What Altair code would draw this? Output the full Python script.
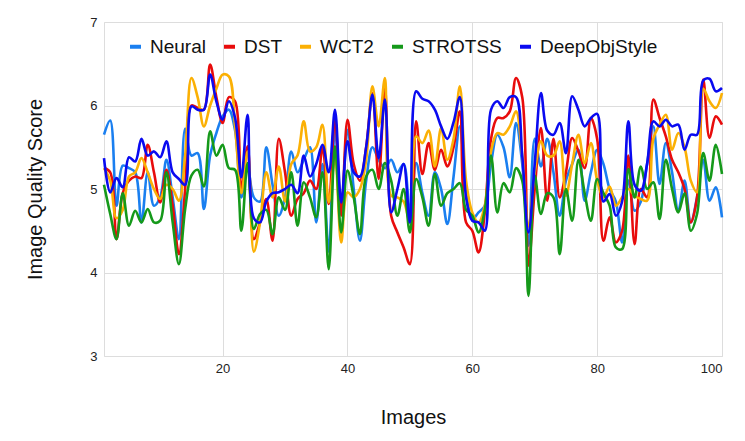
import altair as alt
import pandas as pd

images = list(range(1, 101))

neural = [5.65, 5.82, 4.8, 5.28, 5.25, 5.2, 4.6, 5.2, 4.8, 4.9,
          5.35, 4.9, 4.4, 5.72, 5.4, 5.43, 4.76, 5.4, 5.67, 5.87,
          5.95, 5.7, 4.9, 5.27, 4.9, 4.85, 5.5, 5.05, 4.68, 4.9,
          5.45, 5.2, 5.35, 5.5, 4.6, 5.3, 4.25, 5.71, 4.75, 5.71,
          5.0, 4.38, 5.1, 5.5, 5.35, 5.25, 5.35, 5.2, 5.3, 4.75,
          5.31, 4.95, 4.68, 5.2, 5.0, 4.58, 5.15, 5.75, 5.0, 4.64,
          4.72, 4.8, 5.3, 5.65, 5.5, 5.14, 5.79, 5.3, 4.32, 5.6,
          5.27, 5.6, 5.2, 4.68, 5.1, 5.3, 5.47, 4.86, 5.2, 5.47,
          5.3, 5.0, 4.85, 4.36, 5.1, 4.74, 4.85, 5.3, 5.75, 5.06,
          5.55, 5.2, 4.74, 5.1, 4.6, 4.9, 5.35, 4.86, 5.02, 4.66]

dst = [5.25, 5.2, 4.4, 4.95, 5.1, 5.15, 5.13, 5.53, 5.2, 4.84,
       5.23, 4.8, 4.22, 5.0, 6.0, 5.97, 5.95, 6.49, 6.1, 5.79,
       6.1, 6.05, 5.0, 5.51, 4.4, 4.6, 4.88, 4.38, 5.6, 5.2,
       4.68, 4.88, 4.95, 5.1, 5.0, 5.5, 4.82, 5.85, 4.68, 5.83,
       5.3, 5.1, 5.5, 6.15, 5.12, 6.21, 4.68, 4.48, 4.3, 4.1,
       5.81, 5.18, 5.55, 5.23, 5.47, 5.27, 5.5, 5.93, 4.6, 4.5,
       4.24, 4.72, 5.6, 5.85, 5.85, 5.93, 6.33, 6.1, 4.08, 5.0,
       5.73, 4.86, 5.6, 4.9, 5.2, 5.61, 5.45, 5.25, 5.85, 5.6,
       4.38, 4.66, 4.36, 4.5, 5.4, 4.34, 5.0, 4.9, 6.07, 5.85,
       5.63, 5.35, 5.2, 5.0, 4.6, 4.9, 6.31, 5.61, 5.87, 5.77]

wct2 = [5.25, 5.1, 4.65, 4.75, 5.15, 5.2, 5.37, 5.2, 5.0, 4.88,
        5.05, 5.0, 4.86, 5.4, 6.33, 6.1, 5.75, 6.0, 6.2, 6.37,
        6.35, 5.75, 4.95, 5.45, 4.25, 4.6, 5.2, 4.9, 5.27, 4.85,
        5.3, 5.4, 5.81, 5.45, 5.5, 5.77, 4.84, 5.35, 4.36, 4.96,
        4.9, 5.0, 5.35, 6.23, 5.75, 6.33, 4.92, 4.9, 4.85, 4.6,
        5.63, 5.55, 5.7, 5.27, 5.73, 5.35, 5.6, 6.23, 5.1, 4.72,
        4.6, 4.8, 5.45, 5.67, 5.65, 5.75, 5.93, 5.4, 4.55, 5.2,
        5.57, 5.4, 5.4, 5.57, 4.92, 5.3, 5.65, 5.31, 5.55, 5.1,
        4.9, 5.03, 4.8, 4.9, 5.0, 4.92, 4.88, 4.86, 5.6, 5.77,
        5.89, 5.47, 5.67, 5.5, 5.1, 4.96, 6.2, 6.05, 5.97, 6.15]

strotss = [5.05, 4.7, 4.4, 4.95, 4.56, 4.74, 4.6, 4.76, 4.6, 4.62,
           5.2, 4.6, 4.1, 4.76, 5.16, 5.23, 5.03, 5.69, 5.4, 5.53,
           5.25, 5.23, 4.5, 5.31, 4.52, 4.7, 4.75, 4.46, 4.9, 4.75,
           5.2, 4.56, 5.08, 4.9, 4.66, 5.2, 4.04, 5.51, 4.48, 5.22,
           4.9, 4.46, 5.15, 5.23, 5.0, 5.31, 5.1, 4.68, 5.0, 4.48,
           5.12, 4.9, 4.56, 5.18, 4.8, 4.95, 5.0, 5.07, 4.75, 4.68,
           4.48, 4.75, 5.4, 4.72, 5.07, 4.96, 5.25, 5.1, 3.72, 5.16,
           4.7, 4.95, 4.9, 4.22, 5.0, 4.62, 5.35, 4.95, 4.62, 5.12,
           4.95, 4.8, 4.3, 4.28, 5.24, 4.9, 5.27, 5.0, 5.08, 4.64,
           5.35, 5.0, 4.72, 4.95, 4.5, 4.7, 5.43, 5.1, 5.53, 5.18]

deepobj = [5.37, 4.96, 5.13, 5.02, 5.38, 5.33, 5.6, 5.4, 5.45, 5.38,
           5.57, 5.2, 5.12, 5.05, 5.99, 5.95, 5.95, 6.37, 6.05, 5.83,
           6.05, 5.85, 5.14, 5.89, 4.65, 4.6, 4.85, 4.95, 4.96, 5.0,
           5.05, 4.95, 5.4, 5.15, 5.3, 5.53, 5.2, 5.95, 4.84, 5.57,
           5.2, 5.15, 5.5, 6.13, 5.37, 6.07, 4.72, 5.0, 5.3, 4.6,
           6.17, 6.08, 6.05, 5.95, 5.75, 5.6, 5.8, 6.1, 4.9, 4.62,
           4.6, 4.5, 5.95, 6.05, 5.97, 6.1, 6.1, 5.4, 4.48, 5.3,
           6.15, 5.7, 5.65, 5.79, 5.43, 6.11, 5.95, 5.75, 5.85, 5.9,
           4.85, 4.94, 4.68, 4.85, 5.81, 5.05, 4.98, 5.3, 5.81, 5.75,
           5.83, 5.75, 5.77, 5.47, 5.65, 5.65, 6.3, 6.32, 6.17, 6.21]

series_names = ["Neural", "DST", "WCT2", "STROTSS", "DeepObjStyle"]
series_values = [neural, dst, wct2, strotss, deepobj]
series_colors = ["#1a7ff0", "#e80c0c", "#fbb004", "#15991a", "#0a0af0"]

x_ticks = [20, 40, 60, 80, 100]
y_ticks = [3, 4, 5, 6, 7]

rows = []
for name, vals in zip(series_names, series_values):
    for xi, v in zip(images, vals):
        rows.append({"Images": xi, "Score": v, "Series": name})
df = pd.DataFrame(rows)

FONT = "Liberation Sans"

chart = alt.Chart(df).mark_line(
    interpolate="catmull-rom", strokeWidth=2.6
).encode(
    x=alt.X("Images:Q",
            scale=alt.Scale(domain=[1, 100], nice=False, zero=False),
            axis=alt.Axis(values=x_ticks, title="Images", grid=True,
                          domain=False, ticks=False, labelFontSize=13,
                          labelPadding=6, titleFontSize=20, titlePadding=32,
                          titleFontWeight="normal", labelColor="#222",
                          titleColor="#111")),
    y=alt.Y("Score:Q",
            scale=alt.Scale(domain=[3, 7], nice=False, zero=False),
            axis=alt.Axis(values=y_ticks, title="Image Quality Score", grid=True,
                          domain=False, ticks=False, labelFontSize=13,
                          labelPadding=7, titleFontSize=20, titlePadding=44,
                          titleFontWeight="normal", labelColor="#222",
                          titleColor="#111")),
    color=alt.Color("Series:N",
                    scale=alt.Scale(domain=series_names, range=series_colors),
                    sort=series_names,
                    legend=alt.Legend(title=None, orient="none", direction="horizontal",
                                      legendX=22, legendY=15,
                                      symbolType="stroke", symbolSize=121,
                                      symbolStrokeWidth=4, labelFontSize=19,
                                      labelFont=FONT, columnPadding=10,
                                      symbolOffset=0, labelOffset=5,
                                      labelColor="#111")),
).properties(
    width=618, height=334,
    padding={"left": 96, "top": 14, "right": 15, "bottom": 77},
    autosize=alt.AutoSizeParams(type="none"),
).configure_axis(
    gridColor="#bdbdbd", gridWidth=1, labelFont=FONT, titleFont=FONT
).configure_view(
    strokeWidth=0
).configure(
    background="white"
)

chart.save("out.html", embed_options={"renderer": "svg", "actions": False})
